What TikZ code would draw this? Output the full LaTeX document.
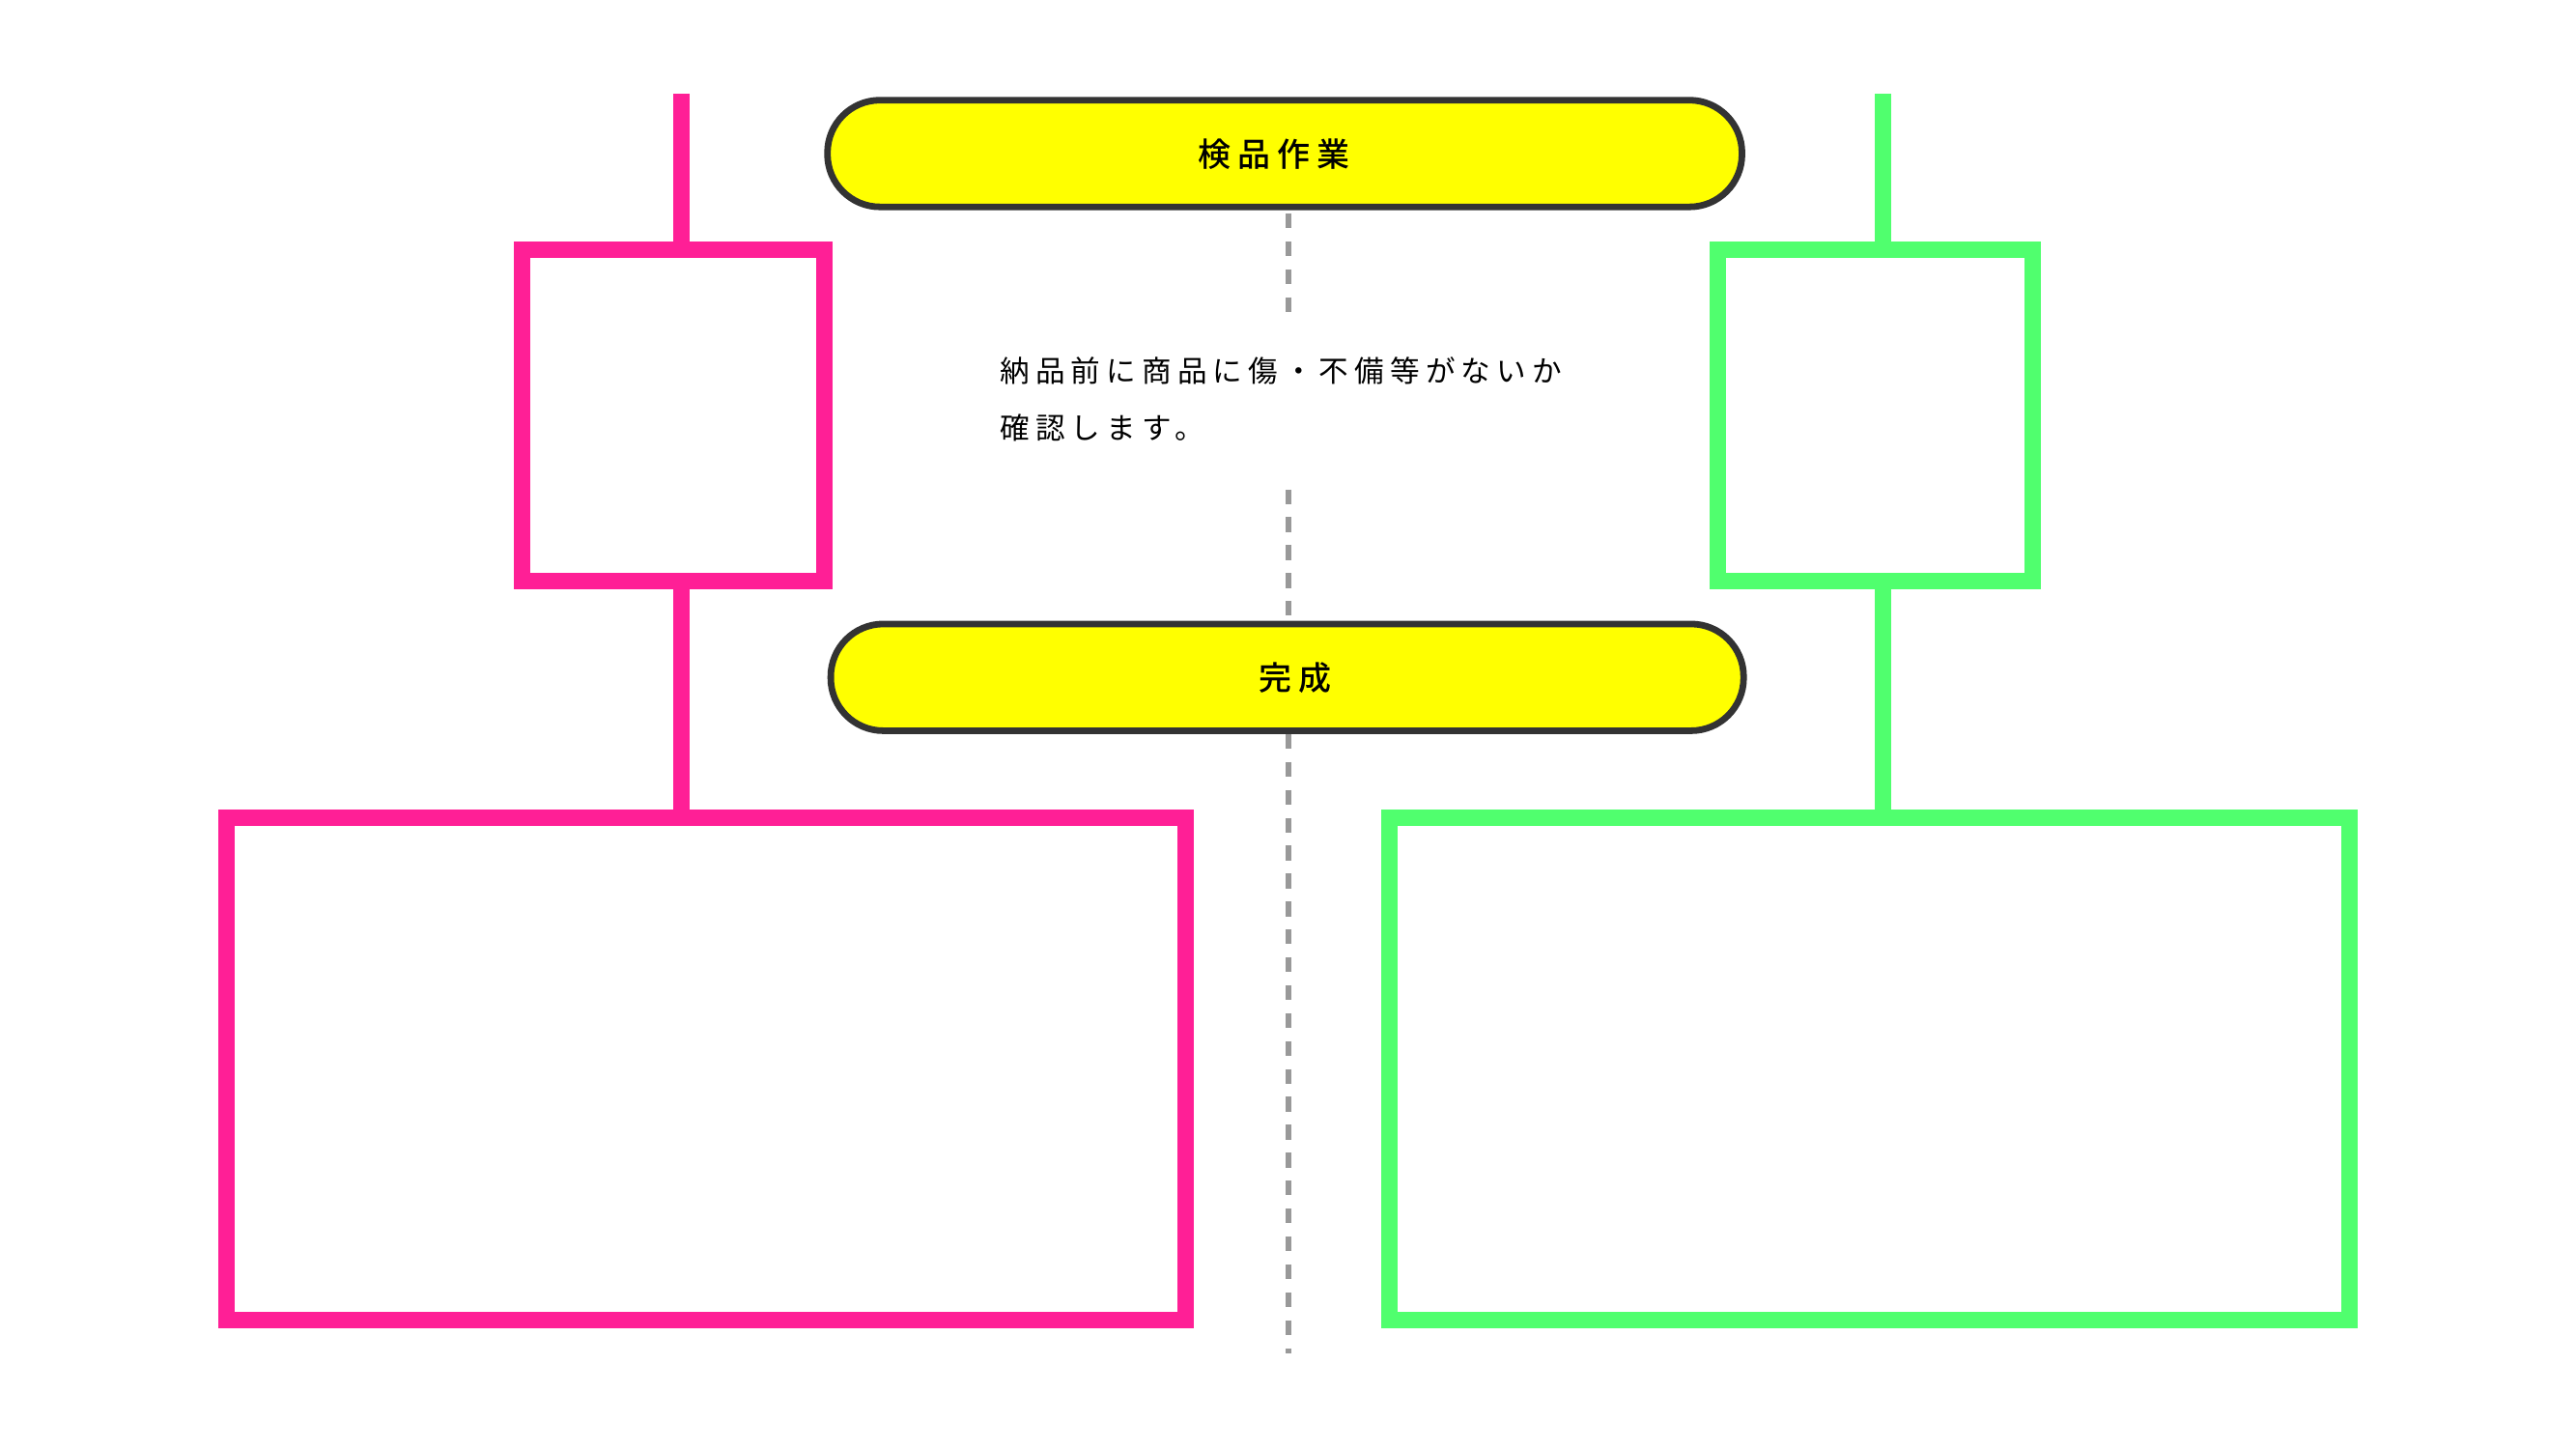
\documentclass[tikz,border=0pt]{standalone}
\usepackage{fontspec}
\newfontfamily\jp[LetterSpace=20]{Noto Sans CJK JP}
\newfontfamily\jpb[LetterSpace=20]{Noto Sans CJK JP Medium}
\definecolor{pinkc}{HTML}{FF1F96}
\definecolor{greenc}{HTML}{50FF6E}
\definecolor{yel}{HTML}{FFFF00}
\definecolor{bord}{HTML}{333333}
\definecolor{dash}{HTML}{999999}
\begin{document}
\begin{tikzpicture}[x=1pt,y=-1pt,
  pk/.style={draw=pinkc,line width=10pt,outer sep=0pt,inner sep=0pt,anchor=north west},
  gr/.style={draw=greenc,line width=10pt,outer sep=0pt,inner sep=0pt,anchor=north west},
  pill/.style={draw=bord,line width=4pt,fill=yel,rounded corners=32pt},
  dsh/.style={draw=dash,line width=3.5pt,dash pattern=on 9pt off 8pt}]
\useasboundingbox (0,0) rectangle (1569,883);
% pink
\coordinate (pt) at (415,57);
\node[pk,minimum width=184pt,minimum height=202pt] (ps) at (318,152) {};
\node[pk,minimum width=584pt,minimum height=306pt] (pb) at (138,498) {};
\draw[pk] (pt) -- (pt|-ps.north);
\draw[pk] (pt|-ps.south) -- (pt|-pb.north);
% green
\coordinate (gt) at (1147,57);
\node[gr,minimum width=192pt,minimum height=202pt] (gs) at (1046,152) {};
\node[gr,minimum width=585pt,minimum height=306pt] (gb) at (846,498) {};
\draw[gr] (gt) -- (gt|-gs.north);
\draw[gr] (gt|-gs.south) -- (gt|-gb.north);
% dashed
\coordinate (d1) at (785,130); \coordinate (d2) at (785,192);
\coordinate (d3) at (785,298); \coordinate (d4) at (785,380);
\coordinate (d5) at (785,447); \coordinate (d6) at (785,824);
\draw[dsh] (d1)--(d2); \draw[dsh] (d3)--(d4); \draw[dsh] (d5)--(d6);
% pills
\path[pill] (504,61) rectangle (1061,126);
\node[font=\jpb\fontsize{20}{24}\selectfont] (p1) at (776,94) {検品作業};
\path[pill] (506,380) rectangle (1062,445);
\node[font=\jpb\fontsize{20}{24}\selectfont] (p2) at (789,413) {完成};
% text
\node[font=\jp\fontsize{18}{35}\selectfont,anchor=north west,align=left,inner sep=0] (t) at (609,217) {納品前に商品に傷・不備等がないか\\確認します。};
\end{tikzpicture}
\end{document}
